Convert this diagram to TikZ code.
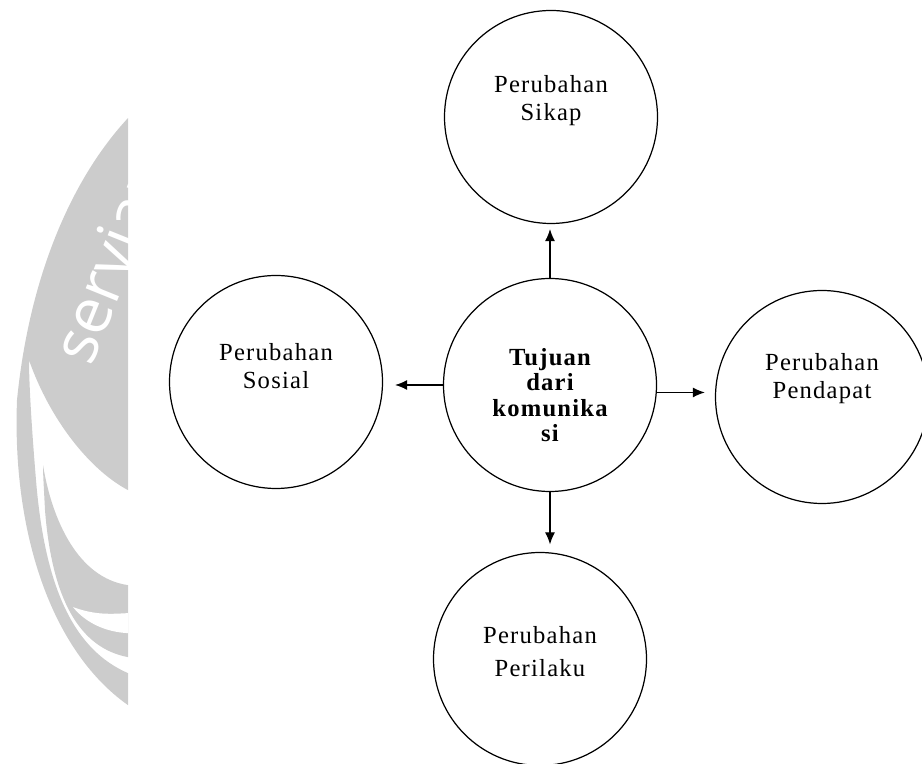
\documentclass[tikz,border=0pt]{standalone}
\usepackage{fontspec}
\setmainfont{Liberation Serif}
\newfontfamily\lblfont[LetterSpace=5]{Liberation Serif}
\newfontfamily\wmfont{Open Sans}
\usetikzlibrary{arrows.meta}

\begin{document}
\begin{tikzpicture}[
circ/.style = {circle, draw, line width=0.7pt, minimum size=4.26cm, inner sep=0pt},
lbl/.style = {align=center, font=\lblfont\fontsize{14}{16}\selectfont},
>={Latex[length=2.4mm,width=2mm]}
]
\useasboundingbox (0,0) rectangle (18.44,-15.28);

% watermark on the left
\begin{scope}[x=0.02cm, y=-0.02cm]
  \clip (0,0) rectangle (128,764);
  \fill[black!20] (128,118) .. controls (75,175) and (30,270) .. (17,400)
    .. controls (12,530) and (50,650) .. (128,705) -- (128,673)
    .. controls (75,650) and (45,590) .. (36,480)
    .. controls (31,420) and (29,380) .. (29,360)
    .. controls (50,420) and (90,470) .. (128,490) -- cycle;
  \fill[black!20] (43,465) .. controls (52,520) and (78,578) .. (128,585) -- (128,657)
    .. controls (80,648) and (52,600) .. (45,510)
    .. controls (44,490) and (43,475) .. (43,465) -- cycle;
  \fill[white] (73,607) .. controls (95,615) and (110,614) .. (128,613) -- (128,633)
    .. controls (105,632) and (85,622) .. (73,607) -- cycle;
  \node[text=white, font=\wmfont\fontsize{36}{36}\selectfont, rotate=68, anchor=base west] (wm) at (89,373) {serviam};
\end{scope}

\node[circ] (sikap) at (11.02,-2.34) {};
\node[circ] (tujuan) at (11.00,-7.70) {};
\node[circ] (sosial) at (5.52,-7.64) {};
\node[circ] (pendapat) at (16.44,-7.94) {};
\node[circ] (perilaku) at (10.80,-13.18) {};

\node[lbl] (sikap-t) at ([yshift=0.32cm]sikap) {Perubahan\\Sikap};
\node[lbl, font=\lblfont\bfseries\fontsize{14}{14.5}\selectfont] (tujuan-t) at ([yshift=-0.2cm]tujuan) {Tujuan\\dari\\komunika\\si};
\node[lbl] (sosial-t) at ([yshift=0.32cm]sosial) {Perubahan\\Sosial};
\node[lbl] (pendapat-t) at ([yshift=0.36cm]pendapat) {Perubahan\\Pendapat};
\node[lbl, font=\lblfont\fontsize{14}{19}\selectfont] (perilaku-t) at ([yshift=0.15cm]perilaku) {Perubahan\\Perilaku};

\draw[->, line width=0.7pt, shorten >=0.1cm] (tujuan.north) -- (tujuan.north |- sikap.south);
\draw[->, line width=0.7pt, shorten >=0.15cm] (tujuan.south) -- (tujuan.south |- perilaku.north);
\draw[->, line width=0.7pt, shorten >=0.24cm] (tujuan.west) -- (tujuan.west -| sosial.east);
\draw[->, line width=0.7pt, shorten >=0.2cm] (tujuan.-4) -- (tujuan.-4 -| pendapat.west);
\end{tikzpicture}
\end{document}
